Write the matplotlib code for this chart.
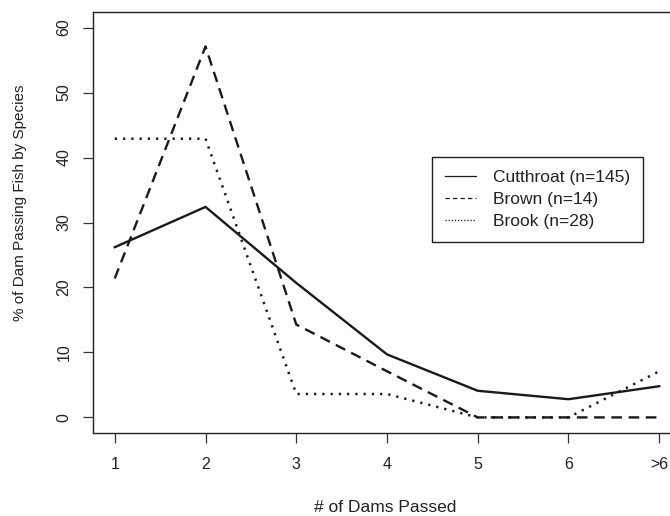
import matplotlib.pyplot as plt
from matplotlib.lines import Line2D

plt.rcParams['font.family'] = ['Liberation Sans', 'DejaVu Sans']

# data
dams = ['1', '2', '3', '4', '5', '6', '>6']
cutthroat = [26.2, 32.4, 20.7, 9.7, 4.1, 2.8, 4.8]
brown = [21.4, 57.1, 14.3, 7.1, 0.0, 0.0, 0.0]
brook = [42.9, 42.9, 3.6, 3.6, 0.0, 0.0, 7.1]
labels = ['Cutthroat (n=145)', 'Brown (n=14)', 'Brook (n=28)']

W, H = 670, 516
fig = plt.figure(figsize=(W / 100, H / 100), dpi=100)
ax = fig.add_axes([93 / W, 1 - 433 / H, (681 - 93) / W, (433 - 12) / H])

x = list(range(1, len(dams) + 1))
ink = '#1a1a1a'
ax.plot(x, cutthroat, color=ink, lw=1.7, ls='-')
ax.plot(x, brown, color=ink, lw=1.7, ls=(0, (4.5, 2.8)))
ax.plot(x, brook, color=ink, lw=1.8, ls=(0, (0.9, 2.4)))

ax.set_xlim(0.76, 7.24)
ax.set_ylim(-2.4, 62.4)
ax.set_xticks(x)
ax.set_xticklabels(dams)
ax.set_yticks(range(0, 61, 10))
ax.tick_params(axis='both', length=7.5, width=0.9, color='#333333',
               labelsize=11.5, labelcolor='#222222')
ax.tick_params(axis='x', pad=10)
ax.tick_params(axis='y', pad=8)
for lab in ax.get_yticklabels():
    lab.set_rotation(90)
    lab.set_va('center')
for s in ax.spines.values():
    s.set_linewidth(1.0)
    s.set_color('#222222')

ax.set_xlabel('# of Dams Passed', fontsize=12.5, color='#222222')
ax.xaxis.set_label_coords(385 / W, 1 - 500 / H, transform=fig.transFigure)
ax.set_ylabel('% of Dam Passing Fish by Species', fontsize=11, color='#222222')
ax.yaxis.set_label_coords(27 / W, 1 - 203 / H, transform=fig.transFigure)

# legend in R style: thin lines
handles = [
    Line2D([], [], color=ink, lw=0.9, ls='-'),
    Line2D([], [], color=ink, lw=0.9, ls=(0, (3.5, 2.5))),
    Line2D([], [], color=ink, lw=0.9, ls=(0, (1, 1.5))),
]
leg = ax.legend(handles, labels, loc='upper left',
                bbox_to_anchor=(432 / W, 1 - 157 / H), bbox_transform=fig.transFigure,
                borderaxespad=0, fontsize=12.5, frameon=True, fancybox=False,
                edgecolor='#222222', framealpha=1, handlelength=1.8,
                handletextpad=0.95, labelspacing=0.4, borderpad=0.75)
leg.get_frame().set_linewidth(1.0)
for t in leg.get_texts():
    t.set_color('#222222')

fig.savefig('out.png', dpi=100)
